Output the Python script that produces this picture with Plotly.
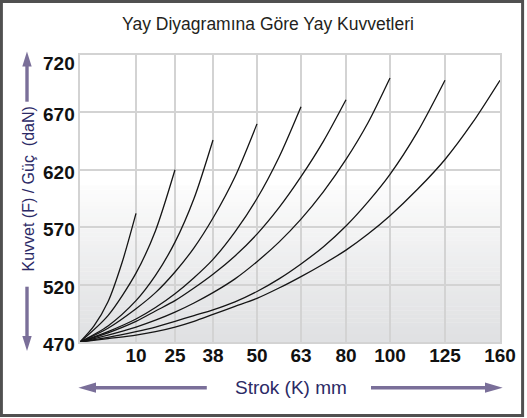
import numpy as np
import plotly.graph_objects as go

# ---------------- data ----------------
TITLE = "Yay Diyagramına Göre Yay Kuvvetleri"
X_TITLE = "Strok (K) mm"
Y_TITLE = "Kuvvet (F) / Güç\u00a0 (daN)"

stroke_ticks = [10, 25, 38, 50, 63, 80, 100, 125, 160]
stroke_tick_labels = ["10", "25", "38", "50", "63", "80", "100", "125", "160"]
force_ticks = [470, 520, 570, 620, 670, 720]
force_tick_labels = ["470", "520", "570", "620", "670", "720"]

k10_stroke = [0, 2.5, 5, 7.5, 10]
k10_force = [470, 484, 505, 539, 582]

k25_stroke = [0, 5, 10, 17.5, 25]
k25_force = [470, 493, 530, 567, 620]

k38_stroke = [0, 5, 10, 17.5, 25, 31.5, 38]
k38_force = [470, 484, 506, 528, 557, 595, 646]

k50_stroke = [0, 5, 10, 17.5, 25, 31.5, 38, 44, 50]
k50_force = [470, 482, 499, 513, 531, 552, 578, 614, 660]

k63_stroke = [0, 5, 10, 17.5, 25, 31.5, 38, 44, 50, 56.5, 63]
k63_force = [470, 479, 490, 500, 512, 526, 542, 566, 595, 631, 675]

k80_stroke = [0, 5, 10, 17.5, 25, 31.5, 38, 44, 50, 56.5, 63, 71.5, 80]
k80_force = [470, 478, 488, 497, 506, 517, 529, 545, 564, 587, 614, 645, 681]

k100_stroke = [0, 5, 10, 17.5, 25, 31.5, 38, 44, 50, 56.5, 63, 71.5, 80, 90, 100]
k100_force = [470, 476, 483, 489, 496, 504, 513, 525, 540, 557, 577, 601, 629, 661, 700]

k125_stroke = [0, 5, 10, 17.5, 25, 31.5, 38, 44, 50, 56.5, 63, 71.5, 80, 90, 100, 112.5, 125]
k125_force = [470, 474, 479, 483, 488, 493, 498, 505, 514, 525, 538, 553, 571, 592, 616, 653, 698]

k160_stroke = [0, 5, 10, 17.5, 25, 31.5, 38, 44, 50, 56.5, 63, 71.5, 80, 90, 100, 112.5, 125, 142.5, 160]
k160_force = [470, 473, 476, 479, 483, 488, 494, 501, 508, 517, 527, 538, 550, 564, 580, 603, 629, 661, 698]

curves = [
    (k10_stroke, k10_force), (k25_stroke, k25_force), (k38_stroke, k38_force),
    (k50_stroke, k50_force), (k63_stroke, k63_force), (k80_stroke, k80_force),
    (k100_stroke, k100_force), (k125_stroke, k125_force), (k160_stroke, k160_force),
]

# ---------------- layout / scale definitions ----------------
W, H = 527, 418
L, T, PW, PH = 80, 55, 420, 287          # plot area in pixels
# the printed stroke axis is not linear: axis position of 0 and of each tick
STROKE_AXIS_POS = [0, 56, 95, 133, 177, 221, 266, 310, 365, 420]


def stroke_to_axis(s):
    return np.interp(s, [0] + stroke_ticks, STROKE_AXIS_POS)


def pxx(x):
    return (x - L) / PW


def pxy(y):
    return (T + PH - y) / PH


FONT = "Liberation Sans"
NAVY = "#2c2a66"
ARROW = "#7a6f99"
GRID = "#d3d3d3"
TICKFONT = dict(family=FONT, size=19, color="#111", weight=700)

fig = go.Figure()

for s, f in curves:
    fig.add_trace(go.Scatter(
        x=stroke_to_axis(s), y=f, mode="lines",
        line=dict(color="#151515", width=1.3, shape="spline", smoothing=0.8),
        hoverinfo="skip", showlegend=False,
    ))

shapes = []
# background gradient (grey at the bottom to white)
g_lo, g_hi, n = 470, 606, 40
c0 = np.array([224, 225, 227])
c1 = np.array([252, 252, 252])
for i in range(n):
    t = (i / (n - 1)) ** 1.15
    c = (c0 + (c1 - c0) * t).round().astype(int)
    y0 = g_lo + (g_hi - g_lo) * i / n
    y1 = g_lo + (g_hi - g_lo) * (i + 1) / n + 0.3
    shapes.append(dict(type="rect", xref="paper", yref="y", x0=0, x1=1, y0=y0, y1=y1,
                       fillcolor=f"rgb({c[0]},{c[1]},{c[2]})", line=dict(width=0), layer="below"))

# outer frame
shapes.append(dict(type="rect", xref="paper", yref="paper",
                   x0=pxx(1.4), x1=pxx(522.6), y0=pxy(415.6), y1=pxy(1.5),
                   line=dict(color="#505050", width=3), fillcolor="rgba(0,0,0,0)", layer="above"))


def seg(x0, y0, x1, y1, w=3.4):
    return dict(type="line", xref="paper", yref="paper", x0=pxx(x0), y0=pxy(y0),
                x1=pxx(x1), y1=pxy(y1), line=dict(color=ARROW, width=w), layer="above")


def tri(pts):
    path = "M " + " L ".join(f"{pxx(a):.5f},{pxy(b):.5f}" for a, b in pts) + " Z"
    return dict(type="path", xref="paper", yref="paper", path=path,
                fillcolor=ARROW, line=dict(width=0), layer="above")


# y-axis arrows
shapes.append(seg(27, 101.7, 27, 64))
shapes.append(tri([(22.3, 66.5), (31.7, 66.5), (27, 51.5)]))
shapes.append(seg(27, 286.7, 27, 338))
shapes.append(tri([(22.3, 336), (31.7, 336), (27, 351)]))
# x-axis arrows
shapes.append(seg(94, 387.7, 206.8, 387.7))
shapes.append(tri([(96, 382.6), (96, 392.8), (78.4, 387.7)]))
shapes.append(seg(371, 387.7, 487, 387.7))
shapes.append(tri([(485, 382.6), (485, 392.8), (502.7, 387.7)]))

annotations = [
    dict(text=Y_TITLE, xref="paper", yref="paper", x=pxx(28), y=pxy(189.5),
         showarrow=False, textangle=-90, xanchor="center", yanchor="middle",
         font=dict(family=FONT, size=16, color=NAVY)),
    dict(text=X_TITLE, xref="paper", yref="paper", x=pxx(291), y=pxy(387),
         showarrow=False, xanchor="center", yanchor="middle",
         font=dict(family=FONT, size=19, color=NAVY)),
]
# force tick labels (printed slightly below their grid lines, top one inside the frame)
for v, lab in zip(force_ticks, force_tick_labels):
    annotations.append(dict(
        text=lab, xref="paper", yref="y", x=pxx(77), y=v, xanchor="right", yanchor="middle",
        yshift=-8 if v == force_ticks[-1] else -2.5, showarrow=False, font=TICKFONT))

fig.update_layout(
    width=W, height=H,
    margin=dict(l=L, r=W - L - PW, t=T, b=H - T - PH, pad=0),
    paper_bgcolor="white", plot_bgcolor="white",
    title=dict(text=TITLE, xref="container", yref="container", x=268 / W, y=1 - 24 / H,
               xanchor="center", yanchor="middle",
               font=dict(family=FONT, size=17.5, color="#231f20")),
    shapes=shapes, annotations=annotations,
    showlegend=False,
)
fig.update_xaxes(
    range=[0, STROKE_AXIS_POS[-1]], tickmode="array",
    tickvals=list(stroke_to_axis(stroke_ticks)), ticktext=stroke_tick_labels,
    showgrid=True, gridcolor=GRID, gridwidth=2, zeroline=False,
    showline=True, mirror=True, linecolor=GRID, linewidth=2, ticks="",
    tickfont=TICKFONT, ticklabelstandoff=-5,
    layer="below traces", fixedrange=True,
)
fig.update_yaxes(
    range=[470, 720], tickmode="array", tickvals=force_ticks,
    showticklabels=False,
    showgrid=True, gridcolor=GRID, gridwidth=2, zeroline=False,
    showline=True, mirror=True, linecolor=GRID, linewidth=2, ticks="",
    layer="below traces", fixedrange=True,
)

fig.write_html("out.html", config={"displayModeBar": False},
               post_script="document.body.style.margin='0';")
